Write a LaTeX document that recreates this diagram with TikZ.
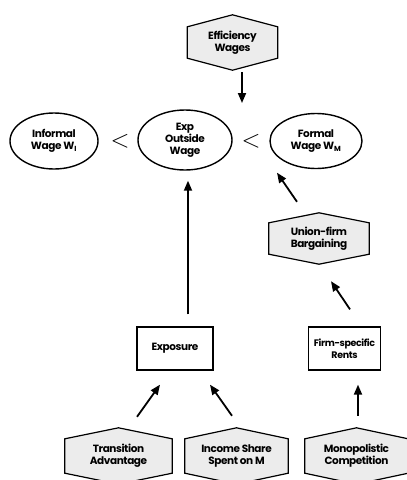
\documentclass[tikz,border=0pt]{standalone}
\usepackage{fontspec}
\setsansfont{Poppins}[LetterSpace=-4]
\usetikzlibrary{arrows.meta,backgrounds,calc,shapes.geometric}
\newcommand\hexbg[2]{%
  \begin{scope}[on background layer]
  \path[hexfill] ([yshift=-#2]#1.north west) -- (#1.north) -- ([yshift=-#2]#1.north east)
    -- ([yshift=#2]#1.south east) -- (#1.south) -- ([yshift=#2]#1.south west) -- cycle;
  \end{scope}}
\begin{document}
\begin{tikzpicture}[x=1pt,y=-1pt,
  lbl/.style={font=\sffamily\bfseries\fontsize{10.5}{12}\selectfont, align=center, inner sep=0pt},
  oval/.style={lbl, draw, ellipse, line width=1.4pt},
  box/.style={lbl, draw, line width=1.3pt, rectangle},
  arr/.style={line width=1.8pt, -{Triangle[length=10pt,width=8pt]}},
  hexfill/.style={draw, line width=1.2pt, fill=gray!15},
  lt/.style={font=\fontsize{26}{26}\selectfont, inner sep=0pt}
]
\useasboundingbox (0,0) rectangle (407,480);

\node[lbl, minimum width=90pt, minimum height=55pt] (eff) at (232.5,42.5) {Efficiency\\Wages};
\hexbg{eff}{12pt}

\node[oval, minimum width=88pt, minimum height=56pt] (inf) at (54,141) {Informal\\Wage W\textsubscript{I}};
\node[oval, minimum width=94pt, minimum height=60pt] (exp) at (185,140) {Exp\\Outside\\Wage};
\node[oval, minimum width=92pt, minimum height=55pt] (form) at (316,141) {Formal\\Wage W\textsubscript{M}};
\node[lt] (lt1) at (120,141) {$<$};
\node[lt] (lt2) at (251,141) {$<$};

\node[lbl, minimum width=100pt, minimum height=51pt] (union) at (319,238.5) {Union-firm\\Bargaining};
\hexbg{union}{10pt}

\node[box, minimum width=76pt, minimum height=43pt] (expo) at (175,348.5) {Exposure};
\node[box, minimum width=72pt, minimum height=43pt, font=\sffamily\bfseries\fontsize{9.5}{12}\selectfont] (firm) at (344.5,348.5) {Firm-specific\\Rents};

\node[lbl, minimum width=107pt, minimum height=56pt] (trans) at (118.5,456) {Transition\\Advantage};
\hexbg{trans}{11pt}
\node[lbl, minimum width=103pt, minimum height=56pt] (inc) at (236.5,456) {Income Share\\Spent on M};
\hexbg{inc}{11pt}
\node[lbl, minimum width=103pt, minimum height=56pt] (mono) at (356.5,456) {Monopolistic\\Competition};
\hexbg{mono}{11pt}

\coordinate (effin) at (242,103);
\draw[arr] ([xshift=9.5pt,yshift=-2pt]eff.south) -- (effin);
\draw[arr] ($(expo.north)+(13,-12)$) -- ($(exp.south)+(3,10)$);
\draw[arr] ($(union.north)+(-22,-11)$) -- ($(form.south)+(-39,3.5)$);
\draw[arr] ($(firm.north)+(5.5,-17)$) -- ($(union.south)+(12,17)$);
\draw[arr] ($(trans.north)+(18.5,-11)$) -- ($(expo.south)+(-15,14)$);
\draw[arr] ($(inc.north)+(-4.5,-12)$) -- ($(expo.south)+(35,14)$);
\draw[arr] ($(mono.north)+(1.5,-12)$) -- ($(firm.south)+(13.5,14)$);
\end{tikzpicture}
\end{document}
